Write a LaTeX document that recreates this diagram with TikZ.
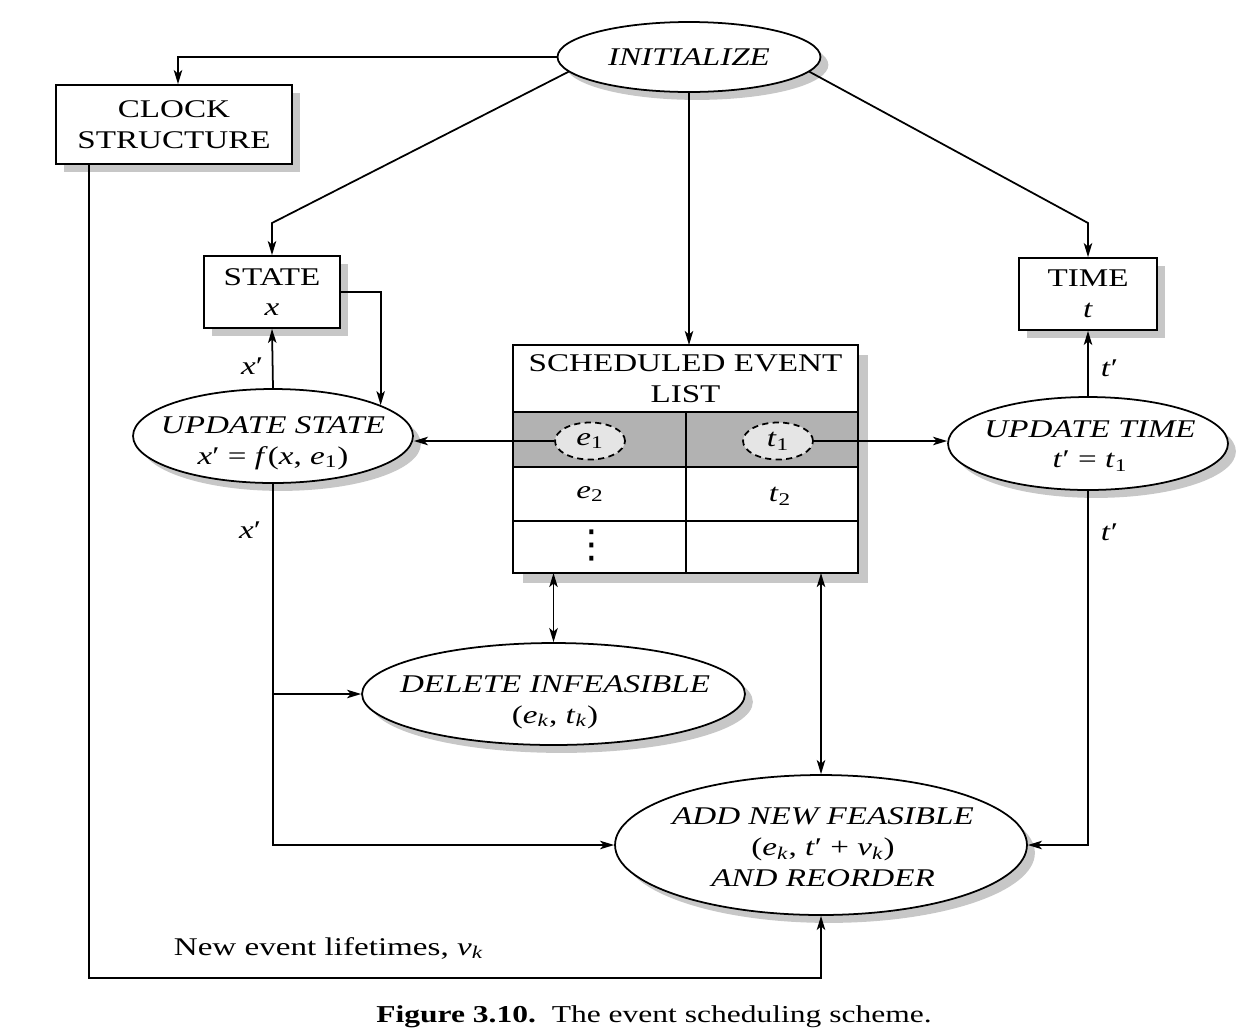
\documentclass[tikz,border=0pt]{standalone}
\usepackage{fontspec}
\setmainfont{Liberation Serif}[FakeStretch=1.3]
\newfontfamily\dvsans{DejaVu Sans}
\usetikzlibrary{shapes.geometric,shadows,arrows.meta}
\newcommand\figfs{\fontsize{14.5}{17.5}\selectfont}
\newcommand\capfs{\fontsize{13.8}{16}\selectfont}
\newcommand\iv[1]{\textit{#1}}
\newcommand\sbs[1]{\textsubscript{#1}}
\tikzset{
  tip/.tip={Stealth[length=8pt,width=4.8pt,inset=2pt]},
  arr/.style={-tip},
  darr/.style={tip-tip},
  shad/.style={drop shadow={shadow xshift=4.5pt,shadow yshift=-4.5pt,fill=black!22,opacity=1}},
  box/.style={draw, fill=white, shad, inner sep=0pt, align=center, font=\figfs},
  ell/.style={ellipse, draw, fill=white, shad, inner sep=0pt},
  txt/.style={align=center, inner sep=0pt, font=\figfs},
  cell/.style={draw, inner sep=0pt, outer sep=0pt},
  dell/.style={ellipse, draw, dash pattern=on 3.5pt off 2.5pt, fill=black!10, inner sep=0pt,
               minimum width=1.4cm, minimum height=0.74cm, font=\figfs},
}
\begin{document}
\begin{tikzpicture}[x=0.02cm,y=-0.02cm,line width=1pt]
\useasboundingbox (0,0) rectangle (1260,1032);

% boxes
\node[box, minimum width=4.72cm, minimum height=1.58cm] (clock) at (174,124.5) {CLOCK\\STRUCTURE};
\node[ell, minimum width=5.26cm, minimum height=1.4cm] (init) at (689,57) {};
\node[txt] (initT) at (689,57) {\iv{INITIALIZE}};
\node[box, minimum width=2.72cm, minimum height=1.44cm] (state) at (272,292) {STATE\\\iv{x}};
\node[box, minimum width=2.76cm, minimum height=1.44cm] (time) at (1088,294) {TIME\\\iv{t}};

% scheduled event list
\fill[black!22] (523,355) rectangle (868,583);
\node[cell, fill=white, minimum width=6.9cm, minimum height=1.34cm, align=center, font=\figfs] (sel) at (685.5,378.5) {SCHEDULED EVENT\\LIST};
\node[cell, fill=black!30, minimum width=3.46cm, minimum height=1.1cm] (r1l) at (599.5,439.5) {};
\node[cell, fill=black!30, minimum width=3.44cm, minimum height=1.1cm] (r1r) at (772,439.5) {};
\node[cell, fill=white, minimum width=3.46cm, minimum height=1.08cm] (r2l) at (599.5,494) {};
\node[cell, fill=white, minimum width=3.44cm, minimum height=1.08cm] (r2r) at (772,494) {};
\node[cell, fill=white, minimum width=3.46cm, minimum height=1.04cm] (r3l) at (599.5,547) {};
\node[cell, fill=white, minimum width=3.44cm, minimum height=1.04cm] (r3r) at (772,547) {};
\node[dell] (e1) at (590,441) {\iv{e}\sbs{1}};
\node[dell] (t1) at (778,441) {\iv{t}\sbs{1}};
\node[txt] (e2) at (590,494) {\iv{e}\sbs{2}};
\node[txt] (t2) at (780,496) {\iv{t}\sbs{2}};
\node[txt, font=\dvsans\fontsize{22}{22}\selectfont] (dots) at (592,545) {⋮};

% ellipses
\node[ell, minimum width=5.6cm, minimum height=1.88cm] (us) at (273,436) {};
\node[txt] (usT) at (273,443) {\iv{UPDATE STATE}\\\iv{x}′ = \iv{f}(\iv{x}, \iv{e}\sbs{1})};
\node[ell, minimum width=5.6cm, minimum height=1.86cm] (ut) at (1088,443.5) {};
\node[txt] (utT) at (1090,446) {\iv{UPDATE TIME}\\\iv{t}′ = \iv{t}\sbs{1}};
\node[ell, minimum width=7.66cm, minimum height=2.04cm] (del) at (553.5,694) {};
\node[txt] (delT) at (555,702) {\iv{DELETE INFEASIBLE}\\(\iv{e}\sbs{\iv{k}}, \iv{t}\sbs{\iv{k}})};
\node[ell, minimum width=8.24cm, minimum height=2.8cm] (add) at (821,845) {};
\node[txt] (addT) at (823,847) {\iv{ADD NEW FEASIBLE}\\(\iv{e}\sbs{\iv{k}}, \iv{t}′ + \iv{v}\sbs{\iv{k}})\\\iv{AND REORDER}};

% corner coordinates
\coordinate (cl) at (272,223);
\coordinate (cr) at (1088,223);

% connectors from INITIALIZE
\draw[arr] (init.west) -| ([xshift=0.08cm]clock.north);
\draw[arr] (init.187.6) -- (cl) -- (state.north);
\draw[arr] (init.-7.6) -- (cr) -- (time.north);
\draw[arr] (init.south) -- (init.south |- sel.north);

% state / time loops
\draw[arr] (state.east) -| (us.16.4);
\draw[arr] (us.north) -- (state.south);
\node[txt, anchor=east] (lx1) at (264,366) {\iv{x}′};
\draw[arr] (ut.north) -- (time.south);
\node[txt, anchor=west] (lt1) at (1100,368) {\iv{t}′};

% list to update ellipses
\draw[arr] (e1.west) -- (e1.west -| us.east);
\draw[arr] (t1.east) -- (t1.east -| ut.west);

% x' branches
\draw[arr] (us.south) |- (add.west);
\draw[arr] (us.south |- del.west) -- (del.west);
\node[txt, anchor=east] (lx2) at (262,530) {\iv{x}′};

% t' to add
\draw[arr] (ut.south) |- (add.east);
\node[txt, anchor=west] (lt2) at (1100,532) {\iv{t}′};

% list double arrows
\draw[darr] (del.north |- r3l.south) -- (del.north);
\draw[darr] (add.north |- r3r.south) -- (add.north);

% clock structure feed
\draw[arr] ([xshift=0.68cm]clock.south west) -- ++(0,813) -| (add.south);
\node[txt, anchor=west] (nel) at (173,948) {New event lifetimes, \iv{v}\sbs{\iv{k}}};

% caption
\node[inner sep=0pt, font=\capfs] (cap) at (654,1017) {\textbf{Figure 3.10.}\ \ The event scheduling scheme.};
\end{tikzpicture}
\end{document}
